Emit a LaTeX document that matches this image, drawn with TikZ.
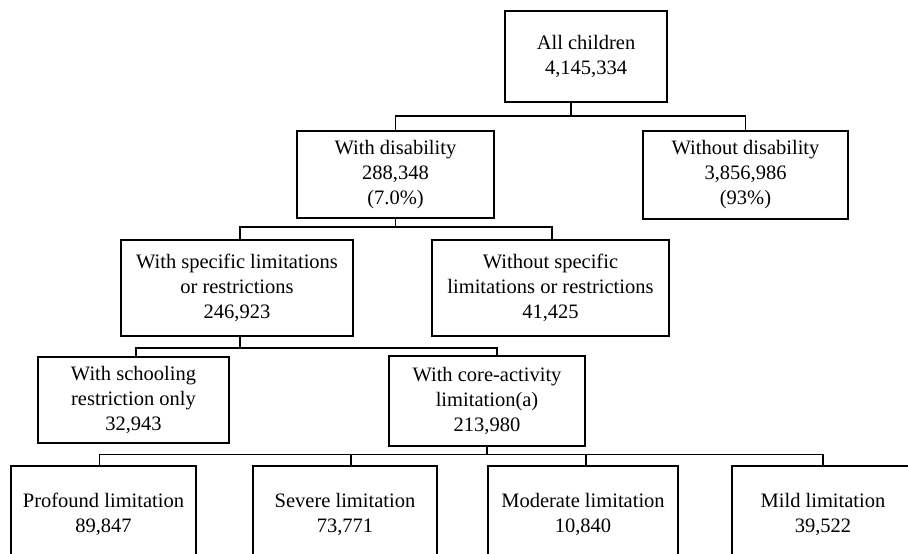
\documentclass[tikz,border=0pt]{standalone}
\usepackage{fontspec}
\setmainfont{Liberation Serif}
\usetikzlibrary{calc}
\begin{document}
\begin{tikzpicture}[x=1pt,y=-1pt,
  box/.style={draw=black,line width=1.5pt,rectangle,inner sep=0pt,outer sep=0pt,
    align=center,font=\fontsize{20.5}{25}\selectfont},
  conn/.style={draw=black,line width=1.5pt}]
\useasboundingbox (0,0) rectangle (908,554);
\fill[white] (0,0) rectangle (908,554);
\clip (0,0) rectangle (908,554);

\node[box,minimum width=162pt,minimum height=91pt] (all) at (586,56.5) {All children\\4,145,334};
\node[box,minimum width=197pt,minimum height=87pt] (dis) at (395.5,174.5) {With disability\\288,348\\(7.0\%)};
\node[box,minimum width=205pt,minimum height=88pt] (nodis) at (745.5,175) {Without disability\\3,856,986\\(93\%)};
\node[box,minimum width=232pt,minimum height=96pt] (spec) at (237,288) {With specific limitations\\or restrictions\\246,923};
\node[box,minimum width=237pt,minimum height=96pt] (nospec) at (550.5,288) {Without specific\\limitations or restrictions\\41,425};
\node[box,minimum width=191pt,minimum height=86pt] (school) at (133.5,400) {With schooling\\restriction only\\32,943};
\node[box,minimum width=196pt,minimum height=90pt] (core) at (487,401) {With core-activity\\limitation(a)\\213,980};
\node[box,minimum width=185pt,minimum height=96pt] (prof) at (103.5,514) {Profound limitation\\89,847};
\node[box,minimum width=184pt,minimum height=96pt] (sev) at (345,514) {Severe limitation\\73,771};
\node[box,minimum width=190pt,minimum height=96pt] (mod) at (583,514) {Moderate limitation\\10,840};
\node[box,minimum width=182pt,minimum height=96pt] (mild) at (823,514) {Mild limitation\\39,522};

% level 1
\coordinate (j1) at ($(all.south)+(-15,14)$);
\draw[conn] ($(all.south)+(-15,0)$) -- (j1);
\draw[conn] (j1) -| (dis.north);
\draw[conn] (j1) -| (nodis.north);
% level 2
\coordinate (j2) at ($(dis.south)+(0,9)$);
\draw[conn] (dis.south) -- (j2);
\draw[conn] (j2) -| ($(spec.north)+(3,0)$);
\draw[conn] (j2) -| ($(nospec.north)+(1.5,0)$);
% level 3
\coordinate (j3) at ($(spec.south)+(3,12)$);
\draw[conn] ($(spec.south)+(3,0)$) -- (j3);
\draw[conn] (j3) -| ($(school.north)+(2.5,0)$);
\draw[conn] (j3) -| ($(core.north)+(10,0)$);
% level 4
\coordinate (j4) at ($(core.south)+(0,8.5)$);
\draw[conn] (core.south) -- (j4);
\draw[conn] (j4) -| ($(prof.north)+(-4,0)$);
\draw[conn] (j4) -| ($(sev.north)+(6,0)$);
\draw[conn] (j4) -| ($(mod.north)+(3,0)$);
\draw[conn] (j4) -| (mild.north);
\end{tikzpicture}
\end{document}
